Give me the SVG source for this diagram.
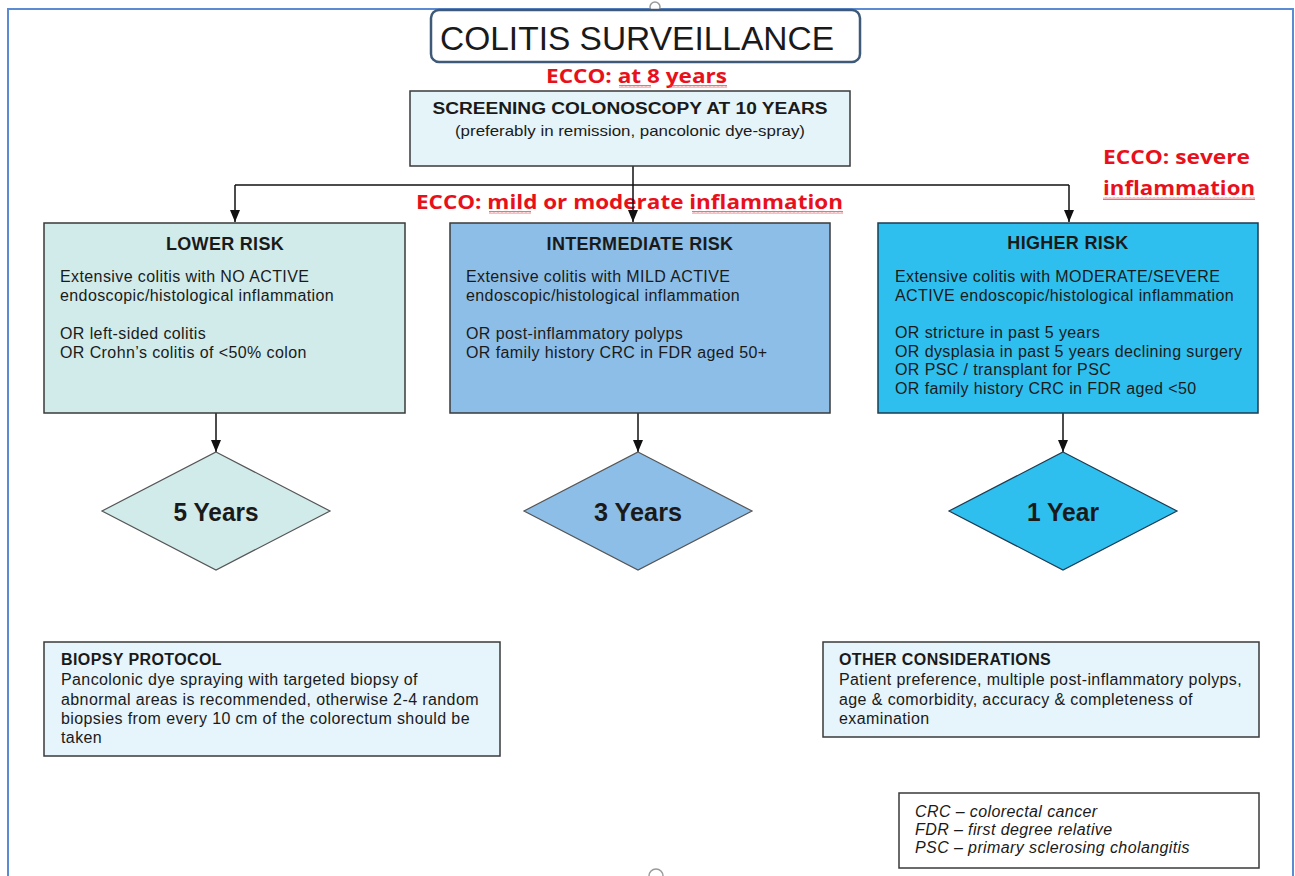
<svg xmlns="http://www.w3.org/2000/svg" width="1295" height="876" viewBox="0 0 1295 876">
  <style>
    .box { stroke: #3a3a3a; stroke-width: 1.5; }
    .conn { stroke: #111; stroke-width: 1.5; fill: none; }
    .t { font-family: "Liberation Sans", Arial, sans-serif; fill: #1a1a1a; }
    .body { font-size: 16px; letter-spacing: 0.4px; }
    .head { font-size: 18px; font-weight: bold; letter-spacing: 0.3px; }
    .dia { font-size: 25px; font-weight: bold; text-anchor: middle; }
    .ecco { font-family: "Open Sans", "Noto Sans", sans-serif; font-weight: bold; fill: #e8111b; font-size: 20px; }
    .frame { stroke: #5b8bd2; stroke-width: 2; fill: none; }
  </style>
  <defs>
    <marker id="arrow" markerWidth="12" markerHeight="10" refX="12" refY="5" orient="auto" markerUnits="userSpaceOnUse" viewBox="0 0 12 10">
      <path d="M0 0 L12 5 L0 10 Z" fill="#111"/>
    </marker>
    <pattern id="squiggle" width="4" height="3" patternUnits="userSpaceOnUse">
      <path d="M0 2.5 L1 0.5 L2 2.5 L3 0.5 L4 2.5" stroke="#e8333b" stroke-width="0.7" fill="none"/>
    </pattern>
  </defs>

  <rect width="1295" height="876" fill="#ffffff"/>

  <!-- page frame and selection handles -->
  <path class="frame" d="M8 876 V9 H1293 V876"/>
  <circle cx="655" cy="7" r="5" fill="#ffffff" stroke="#9a9a9a" stroke-width="1.5"/>
  <path d="M649 876 a7 7 0 0 1 14 0" fill="none" stroke="#9a9a9a" stroke-width="1.5"/>

  <!-- title -->
  <g id="title">
    <rect x="431" y="10" width="429" height="52" rx="8" fill="#ffffff" stroke="#3e5a78" stroke-width="2.5"/>
    <text class="t" x="637" y="50" font-size="33" text-anchor="middle" textLength="394" lengthAdjust="spacingAndGlyphs">COLITIS SURVEILLANCE</text>
  </g>

  <!-- ECCO notes -->
  <g id="ecco-notes">
    <text class="ecco" x="546" y="83" textLength="181" lengthAdjust="spacingAndGlyphs">ECCO: at 8 years</text>
    <rect x="619" y="85" width="32" height="3" fill="url(#squiggle)"/>
    <rect x="670" y="85" width="57" height="3" fill="url(#squiggle)"/>
    <text class="ecco" x="416" y="209" textLength="427" lengthAdjust="spacingAndGlyphs">ECCO: mild or moderate inflammation</text>
    <rect x="489" y="211" width="42" height="3" fill="url(#squiggle)"/>
    <rect x="692" y="211" width="151" height="3" fill="url(#squiggle)"/>
    <text class="ecco" x="1103" y="164" textLength="147" lengthAdjust="spacingAndGlyphs">ECCO: severe</text>
    <text class="ecco" x="1103" y="195" textLength="152" lengthAdjust="spacingAndGlyphs">inflammation</text>
    <rect x="1103" y="197" width="152" height="3" fill="url(#squiggle)"/>
  </g>

  <!-- connectors -->
  <g id="connectors">
    <path class="conn" d="M633 166 V222" marker-end="url(#arrow)"/>
    <path class="conn" d="M235 185 H1069"/>
    <path class="conn" d="M235 185 V222" marker-end="url(#arrow)"/>
    <path class="conn" d="M1069 185 V222" marker-end="url(#arrow)"/>
    <path class="conn" d="M216 413 V452" marker-end="url(#arrow)"/>
    <path class="conn" d="M638 413 V452" marker-end="url(#arrow)"/>
    <path class="conn" d="M1063 413 V452" marker-end="url(#arrow)"/>
  </g>

  <!-- screening -->
  <g id="screening">
    <rect class="box" x="410" y="91" width="440" height="75" fill="#e5f4f8"/>
    <text class="t" x="630" y="114" font-size="16" font-weight="bold" text-anchor="middle" textLength="395" lengthAdjust="spacingAndGlyphs">SCREENING COLONOSCOPY AT 10 YEARS</text>
    <text class="t" x="630" y="136" font-size="15" text-anchor="middle" textLength="350" lengthAdjust="spacingAndGlyphs">(preferably in remission, pancolonic dye-spray)</text>
  </g>

  <!-- lower risk -->
  <g id="lower-risk">
    <rect class="box" x="44" y="223" width="361" height="190" fill="#d0ebea"/>
    <text class="t head" x="225" y="250" text-anchor="middle">LOWER RISK</text>
    <text class="t body" x="60" y="282">Extensive colitis with NO ACTIVE</text>
    <text class="t body" x="60" y="301">endoscopic/histological inflammation</text>
    <text class="t body" x="60" y="339">OR left-sided colitis</text>
    <text class="t body" x="60" y="358">OR Crohn’s colitis of &lt;50% colon</text>
  </g>

  <!-- intermediate risk -->
  <g id="intermediate-risk">
    <rect class="box" x="450" y="223" width="380" height="190" fill="#8dbee7"/>
    <text class="t head" x="640" y="250" text-anchor="middle">INTERMEDIATE RISK</text>
    <text class="t body" x="466" y="282">Extensive colitis with MILD ACTIVE</text>
    <text class="t body" x="466" y="301">endoscopic/histological inflammation</text>
    <text class="t body" x="466" y="339">OR post-inflammatory polyps</text>
    <text class="t body" x="466" y="358">OR family history CRC in FDR aged 50+</text>
  </g>

  <!-- higher risk -->
  <g id="higher-risk">
    <rect x="878" y="223" width="380" height="190" fill="#2fbfee" stroke="#1d3b52" stroke-width="1.5"/>
    <text class="t head" x="1068" y="249" text-anchor="middle">HIGHER RISK</text>
    <text class="t body" x="895" y="282">Extensive colitis with MODERATE/SEVERE</text>
    <text class="t body" x="895" y="301">ACTIVE endoscopic/histological inflammation</text>
    <text class="t body" x="895" y="338">OR stricture in past 5 years</text>
    <text class="t body" x="895" y="357">OR dysplasia in past 5 years declining surgery</text>
    <text class="t body" x="895" y="375">OR PSC / transplant for PSC</text>
    <text class="t body" x="895" y="394">OR family history CRC in FDR aged &lt;50</text>
  </g>

  <!-- intervals -->
  <g id="five-years">
    <polygon points="216,452 330,511 216,570 102,511" fill="#d0ebea" stroke="#555" stroke-width="1.2"/>
    <text class="t dia" x="216" y="521" textLength="85" lengthAdjust="spacingAndGlyphs">5 Years</text>
  </g>
  <g id="three-years">
    <polygon points="638,452 752,511 638,570 524,511" fill="#8dbee7" stroke="#555" stroke-width="1.2"/>
    <text class="t dia" x="638" y="521" textLength="88" lengthAdjust="spacingAndGlyphs">3 Years</text>
  </g>
  <g id="one-year">
    <polygon points="1063,452 1177,511 1063,570 949,511" fill="#2fbfee" stroke="#1d3b52" stroke-width="1.2"/>
    <text class="t dia" x="1063" y="521" textLength="72" lengthAdjust="spacingAndGlyphs">1 Year</text>
  </g>

  <!-- biopsy protocol -->
  <g id="biopsy-protocol">
    <rect class="box" x="44" y="642" width="456" height="114" fill="#e6f4fb"/>
    <text class="t body" x="61" y="665" font-weight="bold">BIOPSY PROTOCOL</text>
    <text class="t body" x="61" y="685">Pancolonic dye spraying with targeted biopsy of</text>
    <text class="t body" x="61" y="705">abnormal areas is recommended, otherwise 2-4 random</text>
    <text class="t body" x="61" y="724">biopsies from every 10 cm of the colorectum should be</text>
    <text class="t body" x="61" y="743">taken</text>
  </g>

  <!-- other considerations -->
  <g id="other-considerations">
    <rect class="box" x="823" y="642" width="436" height="95" fill="#e6f4fb"/>
    <text class="t body" x="839" y="665" font-weight="bold">OTHER CONSIDERATIONS</text>
    <text class="t body" x="839" y="685">Patient preference, multiple post-inflammatory polyps,</text>
    <text class="t body" x="839" y="705">age &amp; comorbidity, accuracy &amp; completeness of</text>
    <text class="t body" x="839" y="724">examination</text>
  </g>

  <!-- abbreviations -->
  <g id="abbreviations">
    <rect class="box" x="899" y="793" width="360" height="75" fill="#ffffff"/>
    <text class="t body" x="915" y="817" font-style="italic">CRC – colorectal cancer</text>
    <text class="t body" x="915" y="835" font-style="italic">FDR – first degree relative</text>
    <text class="t body" x="915" y="853" font-style="italic">PSC – primary sclerosing cholangitis</text>
  </g>
</svg>
